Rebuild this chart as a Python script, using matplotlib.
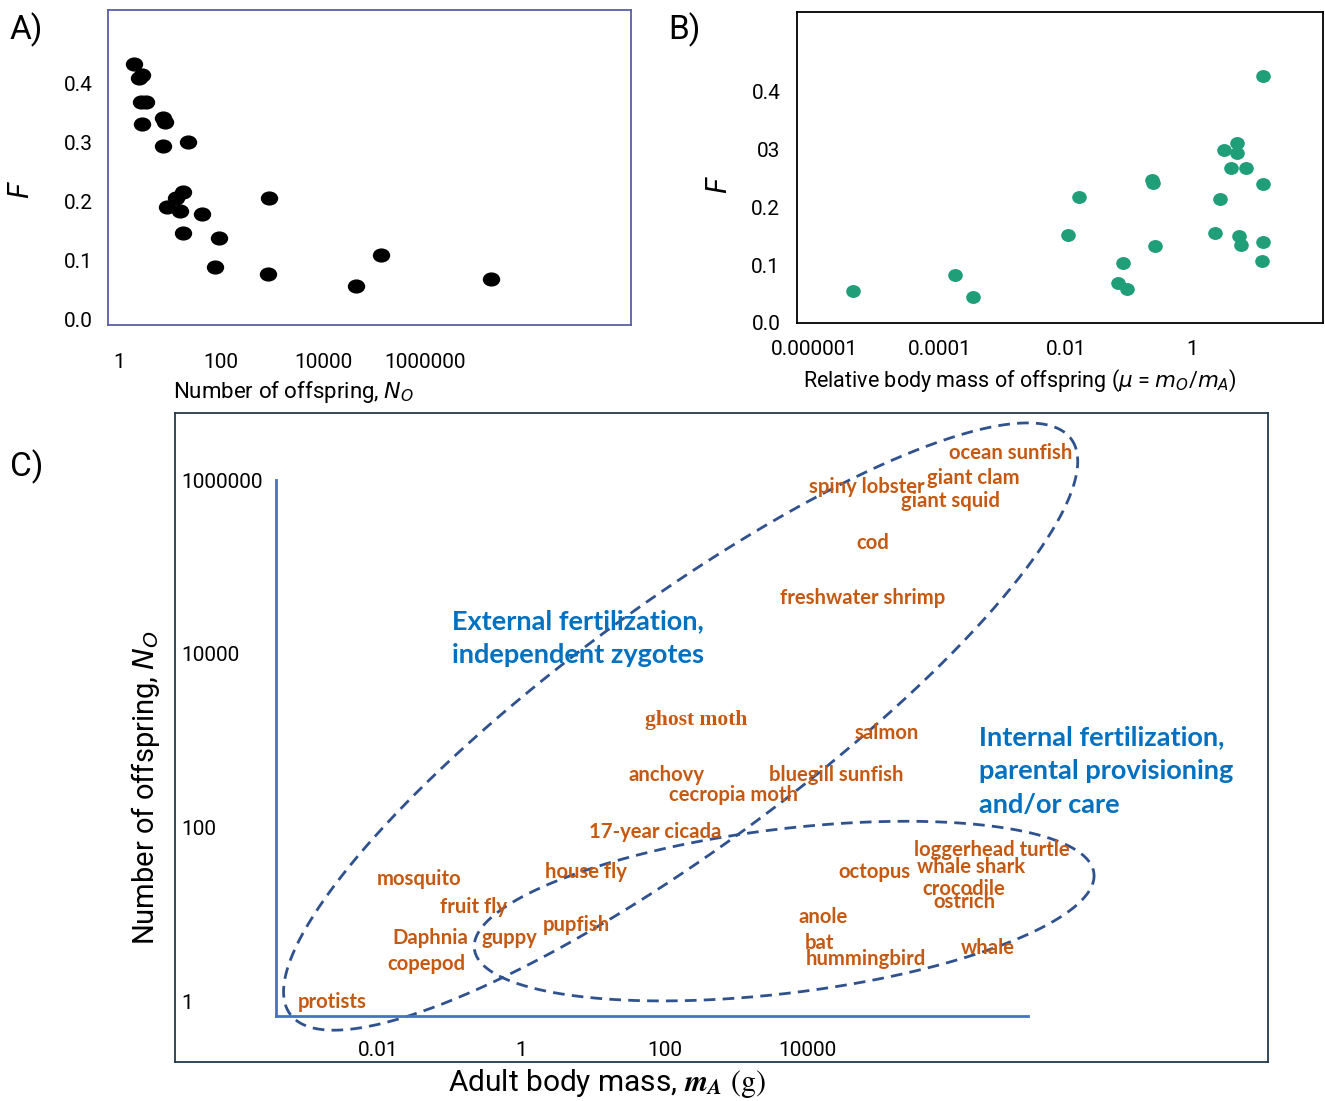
import numpy as np
import matplotlib
matplotlib.use("Agg")
import matplotlib.pyplot as plt
from matplotlib.path import Path
from matplotlib.transforms import Affine2D
from matplotlib.ticker import NullLocator

plt.rcParams['font.family'] = ['Roboto', 'DejaVu Sans']

# ---- panel A: F vs number of offspring
offspring_a = [2.0, 2.5, 2.8, 2.7, 3.4, 2.8, 7.2, 7.9, 7.4, 23, 18, 13, 8.8, 16,
               43, 18, 93, 76, 890, 850, 135000, 44000, 2.0e7]
F_a = [0.434, 0.410, 0.415, 0.370, 0.370, 0.332, 0.342, 0.336, 0.295, 0.301,
       0.216, 0.206, 0.192, 0.184, 0.179, 0.147, 0.139, 0.090, 0.207, 0.078,
       0.110, 0.058, 0.070]

# ---- panel B: F vs relative body mass of offspring
mu_b = [4.1e-6, 1.7e-4, 3.3e-4, 0.0107, 0.016, 0.079, 0.066, 0.093, 0.23, 0.24,
        0.26, 2.3, 2.75, 3.2, 4.1, 5.1, 5.1, 5.6, 6.0, 7.2, 13.5, 13.5, 13.5, 12.9]
F_b = [0.055, 0.083, 0.045, 0.152, 0.217, 0.1035, 0.069, 0.059, 0.247, 0.241,
       0.132, 0.156, 0.214, 0.298, 0.267, 0.311, 0.294, 0.150, 0.134, 0.267,
       0.426, 0.240, 0.139, 0.1075]
b_ytick_labels = ['0.0', '0.1', '0.2', '03', '0.4']

# ---- panel C: species (log10 adult mass g, log10 number of offspring)
species = ['ocean sunfish', 'spiny lobster', 'giant clam', 'giant squid', 'cod',
           'freshwater shrimp', 'salmon', 'ghost moth', 'anchovy', 'cecropia moth',
           'bluegill sunfish', '17-year cicada', 'house fly', 'mosquito', 'fruit fly',
           'Daphnia', 'guppy', 'pupfish', 'copepod', 'protists', 'loggerhead turtle',
           'whale shark', 'octopus', 'crocodile', 'ostrich', 'anole', 'bat',
           'hummingbird', 'whale']
log_mass = [5.972, 4.010, 5.669, 5.302, 4.680, 3.613, 4.653, 1.729, 1.492, 2.064,
            3.460, 0.948, 0.334, -2.020, -1.137, -1.802, -0.554, 0.306, -1.872,
            -3.121, 5.481, 5.526, 4.423, 5.593, 5.745, 3.865, 3.958, 3.976, 6.140]
log_offspring = [6.206, 5.818, 5.923, 5.666, 5.190, 4.564, 3.035, 3.182, 2.559,
                 2.333, 2.559, 1.917, 1.461, 1.382, 1.068, 0.713, 0.713, 0.861,
                 0.419, -0.008, 1.710, 1.521, 1.464, 1.265, 1.125, 0.955, 0.660,
                 0.472, 0.604]

# groups: (text, log10 mass, log10 offspring)
group_labels = ["External fertilization,\nindependent zygotes",
                "Internal fertilization,\nparental provisioning\nand/or care"]
group_pos = [(-0.964, 4.111), (6.391, 2.605)]
# dashed ellipses in log space: centre, semi-axis vector u, semi-axis vector v
ellipses = [((2.225, 3.109), (5.449, 3.257), (1.002, -1.103)),
            ((3.669, 1.019), (4.322, 0.430), (0.140, -0.922))]

W, H = 1325, 1101
fig = plt.figure(figsize=(W / 100, H / 100), dpi=100)


def px_axes(left, top, right, bottom):
    return fig.add_axes([left / W, 1 - bottom / H, (right - left) / W, (bottom - top) / H])


oval = Path.unit_circle().transformed(Affine2D().scale(1.25, 1.0))

# A
ax_a = px_axes(108, 10, 631, 325)
ax_a.plot(offspring_a, F_a, ls='none', marker=oval, ms=11.5, color='black')
ax_a.set_xscale('log')
ax_a.set_xlim(10 ** -0.216, 10 ** 10.04)
ax_a.set_ylim(-0.0085, 0.525)
ax_a.set_xticks([1, 100, 1e4, 1e6], ['1', '100', '10000', '1000000'])
ax_a.set_yticks([0, 0.1, 0.2, 0.3, 0.4], ['0.0', '0.1', '0.2', '0.3', '0.4'])
ax_a.xaxis.set_minor_locator(NullLocator())
ax_a.tick_params(axis='x', length=0, pad=20, labelsize=15)
ax_a.tick_params(axis='y', length=0, pad=11, labelsize=15)
for s in ax_a.spines.values():
    s.set_color('#5b5ea6')
    s.set_linewidth(1.3)
ax_a.set_xlabel('Number of offspring, $N_O$', fontsize=16)
ax_a.xaxis.set_label_coords(0.355, -0.17)
fig.text(20 / W, 1 - 190 / H, 'F', style='italic', rotation=90, fontsize=21,
         ha='center', va='center')
fig.text(10 / W, 1 - 30 / H, 'A)', fontsize=24, ha='left', va='center')

# B
oval_b = Path.unit_circle().transformed(Affine2D().scale(1.15, 1.0))
ax_b = px_axes(797, 12, 1323, 323)
ax_b.plot(mu_b, F_b, ls='none', marker=oval_b, ms=9.5, color='#1f9e77')
ax_b.set_xscale('log')
ax_b.set_xlim(10 ** -6.27, 10 ** 2.08)
ax_b.set_ylim(0.0085, 0.5365)
ax_b.set_xticks([1e-6, 1e-4, 1e-2, 1], ['0.000001', '0.0001', '0.01', '1'])
ax_b.set_yticks([0, 0.1, 0.2, 0.3, 0.4], b_ytick_labels)
ax_b.xaxis.set_minor_locator(NullLocator())
ax_b.tick_params(axis='x', length=0, pad=12, labelsize=15)
ax_b.tick_params(axis='y', length=0, pad=12, labelsize=15)
for s in ax_b.spines.values():
    s.set_color('black')
    s.set_linewidth(1.3)
ax_b.set_xlabel(r'Relative body mass of offspring ($\mu$ = $m_O$/$m_A$)', fontsize=15.5)
ax_b.xaxis.set_label_coords(0.424, -0.145)
fig.text(718 / W, 1 - 185 / H, 'F', style='italic', rotation=90, fontsize=21,
         ha='center', va='center')
fig.text(668 / W, 1 - 30 / H, 'B)', fontsize=24, ha='left', va='center')

# C: outer frame axes
ax_c = px_axes(175, 413, 1268, 1062)
ax_c.set_xscale('log')
ax_c.set_yscale('log')
ax_c.set_xlim(10 ** -4.83, 10 ** 10.42)
ax_c.set_ylim(10 ** -0.69, 10 ** 6.66)
ax_c.minorticks_off()
ax_c.set_xticks([])
ax_c.set_yticks([])
for s in ax_c.spines.values():
    s.set_color('#24394d')
    s.set_linewidth(1.3)

t = np.linspace(0, 2 * np.pi, 500)
for (cx, cy), (ux, uy), (vx, vy) in ellipses:
    ex = cx + ux * np.cos(t) + vx * np.sin(t)
    ey = cy + uy * np.cos(t) + vy * np.sin(t)
    ax_c.plot(10 ** ex, 10 ** ey, color='#2f528f', lw=2, ls=(0, (4.2, 2.6)),
              clip_on=False)

for name, lx, ly in zip(species, log_mass, log_offspring):
    if name == 'ghost moth':
        fam, size = ['Liberation Serif'], 15.5
    else:
        fam, size = ['Lato', 'DejaVu Sans'], 14.6
    ax_c.text(10 ** lx, 10 ** ly, name, ha='left', va='center', color='#c65911',
              fontweight='bold', family=fam, fontsize=size)

for label, (lx, ly) in zip(group_labels, group_pos):
    ax_c.text(10 ** lx, 10 ** ly, label, ha='left', va='center', color='#0070c0',
              fontweight='bold', family=['Lato', 'DejaVu Sans'], fontsize=19.5,
              linespacing=1.5)

# C: inner blue axes
ax_in = px_axes(276, 480, 1028, 1016)
ax_in.set_xscale('log')
ax_in.set_yscale('log')
ax_in.set_xlim(10 ** -3.421, 10 ** 7.075)
ax_in.set_ylim(10 ** -0.170, 10 ** 5.900)
ax_in.patch.set_visible(False)
ax_in.minorticks_off()
ax_in.set_xticks([0.01, 1, 100, 1e4], ['0.01', '1', '100', '10000'])
ax_in.set_yticks([1, 100, 1e4, 1e6], ['1', '100', '10000', '1000000'])
for lab in ax_in.get_yticklabels():
    lab.set_horizontalalignment('left')
ax_in.tick_params(axis='x', length=0, pad=18, labelsize=15)
ax_in.tick_params(axis='y', length=0, pad=68, labelsize=15)
ax_in.spines['top'].set_visible(False)
ax_in.spines['right'].set_visible(False)
for side in ('left', 'bottom'):
    ax_in.spines[side].set_color('#4472c4')
    ax_in.spines[side].set_linewidth(2)
ax_in.set_xlabel(r'Adult body mass, $\mathbfit{m}_{\mathbfit{A}}$ $\mathrm{(g)}$',
                 fontsize=21.5, math_fontfamily='stix')
ax_in.xaxis.set_label_coords(0.44, -0.095)
ax_in.set_ylabel('Number of offspring, $N_O$', fontsize=21)
ax_in.yaxis.set_label_coords(-0.152, 0.427)
fig.text(10 / W, 1 - 467 / H, 'C)', fontsize=24, ha='left', va='center')

fig.savefig('out.png', dpi=100)
